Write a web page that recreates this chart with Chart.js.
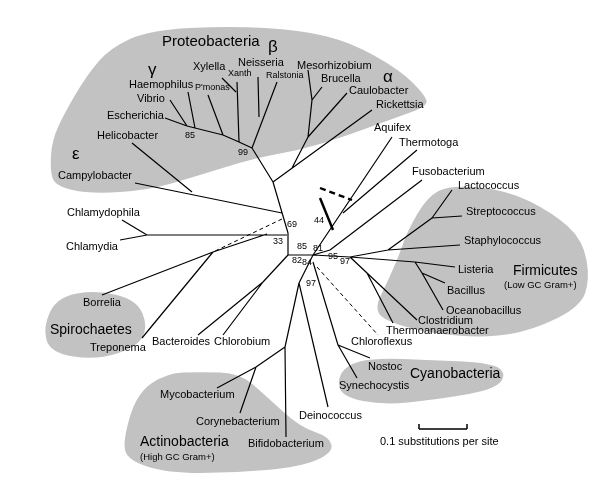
<!DOCTYPE html><html><head><meta charset="utf-8">
<script src="https://cdn.jsdelivr.net/npm/chart.js@4"></script>
<style>html,body{margin:0;background:#fff}#w{width:600px;height:490px}</style></head><body><div id="w"><canvas id="c"></canvas></div>
<script>
// Tree edges as [x1,y1,x2,y2] in tree-layout units (x 0..600, y 0..490 downward)
const solidEdges=[
// proteobacteria
[288,233,273,182],[273,182,252,148],[273,182,372,110],[292,168,308,137],[308,137,347,93],[308,137,312,100],[312,100,322,87],[312,100,308,70],
[252,148,277,82],[259,117,258,77],[252,148,239,142],[239,142,237,82],[236,92,222,78],[239,142,223,135],[223,135,208,95],[223,135,195,128],[195,128,188,92],[195,128,187,126],[187,126,170,100],[187,126,165,118],
// epsilon
[282,213,135,183],[192,192,132,143],
// chlamydiae, spirochaetes
[287,235,147,235],[147,235,122,220],[147,235,120,240],[267,234,213,252],[213,252,102,295],[213,252,142,338],
// center
[288,233,288,255],[288,255,313,255],[288,255,263,282],[263,282,198,335],[263,282,223,335],
[313,255,299,283],[299,283,285,347],[285,347,256,367],[256,367,217,388],[256,367,240,413],[285,347,286,437],[299,283,328,407],
[313,262,338,345],[338,345,370,358],[338,345,357,378],
// firmicutes
[313,255,350,257],[350,257,388,250],[388,250,460,245],[388,250,432,218],[432,218,452,190],[432,218,462,216],
[350,257,415,262],[415,262,455,267],[415,262,422,273],[422,273,445,283],[422,273,443,310],
[350,257,367,273],[367,273,417,320],[367,273,393,323],
// upper right
[313,255,330,250],[330,250,422,180],[313,255,392,137],[343,213,417,150]];
const thickEdges=[[320,198,333,230]];
const dashedEdges=[[282,219,213,252],[317,267,378,335]];
const thickDashed=[[320,188,352,200]];
const taxa=[["Xylella",193,67,11],["Xanth",228,74,9],["Neisseria",238,63,11],["Ralstonia",266,76,9],["Haemophilus",129,85,11],["P'monas",195,88,9],["Vibrio",137,99,11],["Escherichia",107,116,11],["Helicobacter",97,136,11],["Campylobacter",58,176,11],["Chlamydophila",67,213,11],["Chlamydia",66,247,11],
["Mesorhizobium",297,66,11],["Brucella",321,79,11],["Caulobacter",349,91,11],["Rickettsia",376,105,11],["Aquifex",374,128,11],["Thermotoga",399,143,11],["Fusobacterium",412,172,11],["Lactococcus",458,186,11],["Streptococcus",466,212,11],["Staphylococcus",464,241,11],
["Borrelia",83,303,11],["Treponema",90,348,11],["Bacteroides",152,342,11],["Chlorobium",214,342,11],["Mycobacterium",160,395,11],["Corynebacterium",196,422,11],["Bifidobacterium",248,444,11],["Deinococcus",299,416,11],
["Listeria",458,270,11],["Bacillus",447,291,11],["Oceanobacillus",446,311,11],["Clostridium",418,321,11],["Thermoanaerobacter",386,331,11],["Chloroflexus",351,342,11],["Nostoc",368,367,11],["Synechocystis",339,386,11]];
const support=[["99",238,153],["85",185,136],["69",287,225],["33",273,242],["44",314,221],["85",297,247],["81",313,249],["95",328,257],["97",340,262],["82",292,261],["84",302,263],["97",306,284]];
const groups=[["Proteobacteria",162,42,15],["β",268,47,17],["γ",148,70,17],["α",383,77,17],["ε",72,154,17],["Spirochaetes",50,330,14],["Firmicutes",513,271,14],["(Low GC Gram+)",504,285,9.5],["Cyanobacteria",410,374,14],["Actinobacteria",140,442,14],["(High GC Gram+)",140,457,9.5]];
const blobs=[
[[50,170],[52,140],[65,112],[87,75],[110,48],[150,30],[230,26],[300,30],[350,42],[400,70],[425,95],[428,106],[395,118],[340,138],[300,150],[255,158],[200,175],[150,190],[90,194],[55,186]],
[[400,253],[407,232],[427,197],[450,185],[507,190],[553,213],[583,240],[590,280],[580,307],[533,330],[487,338],[427,333],[383,320],[375,307],[387,283]],
[[43,327],[57,297],[97,290],[137,300],[148,327],[137,347],[97,360],[50,353]],
[[123,440],[137,393],[167,373],[200,372],[240,373],[267,397],[300,427],[330,437],[333,453],[300,467],[233,473],[167,473],[127,460]],
[[337,380],[347,365],[373,358],[433,360],[493,363],[507,375],[493,390],[433,400],[383,405],[343,397]]];
const scaleBar=[[419,429,467,429],[419,424,419,429],[467,424,467,429]];

function seg(list){const d=[];list.forEach(e=>{d.push({x:e[0],y:e[1]},{x:e[2],y:e[3]},{x:NaN,y:NaN});});return d;}
const F='"Liberation Sans",Arial,sans-serif';
const labelPlugin={id:'lbl',
 beforeDatasetsDraw(ch){const c=ch.ctx,X=ch.scales.x,Y=ch.scales.y;c.save();c.fillStyle='#c2c2c2';
  blobs.forEach(b=>{const p=b.map(q=>[X.getPixelForValue(q[0]),Y.getPixelForValue(q[1])]);const n=p.length;c.beginPath();
   for(let i=0;i<=n;i++){const a=p[i%n],m=p[(i+1)%n];const mx=(a[0]+m[0])/2,my=(a[1]+m[1])/2;if(i===0)c.moveTo(mx,my);else c.quadraticCurveTo(a[0],a[1],mx,my);}
   c.closePath();c.fill();});c.restore();},
 afterDatasetsDraw(ch){const c=ch.ctx,X=ch.scales.x,Y=ch.scales.y;c.save();c.fillStyle='#000';c.textBaseline='middle';
  taxa.forEach(t=>{c.font=t[3]+'px '+F;c.fillText(t[0],X.getPixelForValue(t[1]),Y.getPixelForValue(t[2]));});
  c.font='9px '+F;support.forEach(t=>c.fillText(t[0],X.getPixelForValue(t[1]),Y.getPixelForValue(t[2])));
  groups.forEach(t=>{c.font=t[3]+'px '+F;c.fillText(t[0],X.getPixelForValue(t[1]),Y.getPixelForValue(t[2]));});
  c.font='11px '+F;c.fillText('0.1 substitutions per site',X.getPixelForValue(380),Y.getPixelForValue(442));
  c.restore();}};
const base={showLine:true,spanGaps:false,borderColor:'#000',pointRadius:0};
new Chart(document.getElementById('c'),{type:'scatter',
 data:{datasets:[
  Object.assign({data:seg(solidEdges),borderWidth:1.2},base),
  Object.assign({data:seg(thickEdges),borderWidth:2.4},base),
  Object.assign({data:seg(dashedEdges),borderWidth:1,borderDash:[4,3]},base),
  Object.assign({data:seg(thickDashed),borderWidth:2.4,borderDash:[6,4]},base),
  Object.assign({data:seg(scaleBar),borderWidth:1.5},base)]},
 options:{responsive:true,maintainAspectRatio:false,animation:false,layout:{padding:0},
  plugins:{legend:{display:false},tooltip:{enabled:false}},
  scales:{x:{type:'linear',min:0,max:600,display:false},y:{type:'linear',min:0,max:490,reverse:true,display:false}}},
 plugins:[labelPlugin]});
</script></body></html>
